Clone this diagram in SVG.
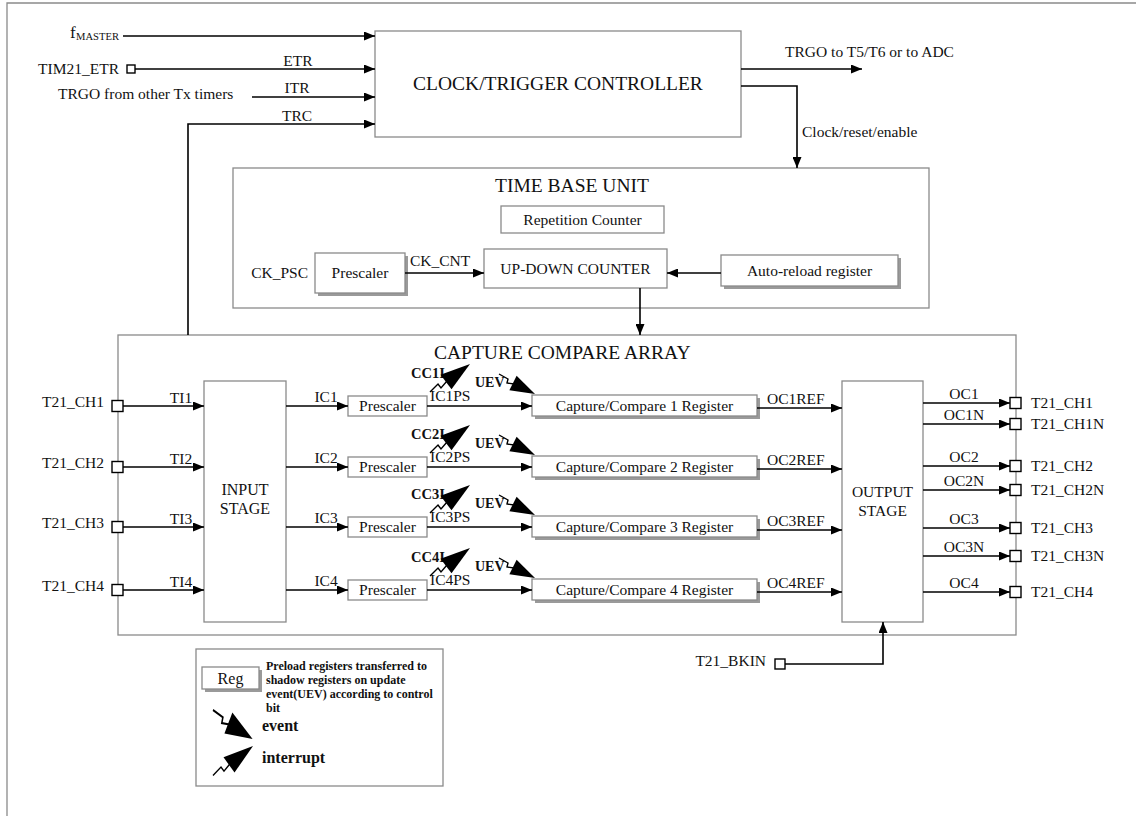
<svg xmlns="http://www.w3.org/2000/svg" width="1136" height="816" viewBox="0 0 1136 816">
<style>
text{font-family:"Liberation Serif","Times New Roman",serif;font-size:15.5px;fill:#111}
.big{font-size:19.5px}
.b{font-weight:bold}
.box{fill:#fff;stroke:#8a8a8a;stroke-width:1.3}
.sh{fill:#9a9a9a}
.frame{fill:none;stroke:#8a8a8a;stroke-width:1.3}
.w{fill:none;stroke:#000;stroke-width:1.6}
.wa{fill:none;stroke:#000;stroke-width:1.6;marker-end:url(#ah)}
.pin{fill:#fff;stroke:#000;stroke-width:1.4}
.c{text-anchor:middle}
.e{text-anchor:end}
</style>
<defs>
<marker id="ah" markerUnits="userSpaceOnUse" markerWidth="11" markerHeight="9" refX="11" refY="4.5" orient="auto">
<path d="M0,0 L11,4.5 L0,9 z" fill="#000"/>
</marker>
<g id="intr">
<polyline points="0,28 8,20 11,24 17,17" fill="none" stroke="#000" stroke-width="1.4"/>
<polygon points="40,0 21.5,25.3 10.5,10.7" fill="#000"/>
</g>
<g id="evt">
<polyline points="0,0 9,5 8,9 15,10" fill="none" stroke="#000" stroke-width="1.4"/>
<polygon points="36,20 10.4,16.2 17.6,1.8" fill="#000"/>
</g>
</defs>
<rect width="1136" height="816" fill="#fff"/>
<path class="frame" d="M7,816 V3 H1136"/>

<g id="clock-trigger-controller">
<rect class="box" x="375" y="31" width="366" height="106"/>
<text class="big c" x="558" y="90">CLOCK/TRIGGER CONTROLLER</text>
</g>

<g id="time-base-unit">
<rect class="box" x="233" y="168" width="696" height="140"/>
<text class="big c" x="572" y="192">TIME BASE UNIT</text>
</g>
<g id="repetition-counter">
<rect class="box" x="501" y="206" width="163" height="27"/>
<text class="c" x="582.5" y="225">Repetition Counter</text>
</g>
<g id="tbu-prescaler">
<rect class="sh" x="318" y="256" width="90" height="40"/>
<rect class="box" x="315" y="253" width="90" height="40"/>
<text class="c" x="360" y="278">Prescaler</text>
</g>
<g id="up-down-counter">
<rect class="box" x="484" y="249" width="183" height="39"/>
<text class="c" x="575.5" y="274">UP-DOWN COUNTER</text>
</g>
<g id="auto-reload">
<rect class="sh" x="724" y="258" width="177" height="31"/>
<rect class="box" x="721" y="255" width="177" height="31"/>
<text class="c" x="809.5" y="276">Auto-reload register</text>
</g>

<g id="capture-compare-array">
<rect class="box" x="118" y="335" width="898" height="300"/>
<text class="big" x="434" y="359">CAPTURE COMPARE ARRAY</text>
</g>
<g id="input-stage">
<rect class="box" x="204" y="381" width="82" height="241"/>
<text class="c" x="245" y="495" style="font-size:16px">INPUT</text>
<text class="c" x="245" y="514" style="font-size:16px">STAGE</text>
</g>
<g id="output-stage">
<rect class="box" x="842" y="381" width="81" height="241"/>
<text class="c" x="882.5" y="497">OUTPUT</text>
<text class="c" x="882.5" y="516">STAGE</text>
</g>

<g id="prescaler-1"><rect class="box" x="348" y="396" width="79" height="20"/><text class="c" x="387.5" y="411">Prescaler</text></g>
<g id="prescaler-2"><rect class="box" x="348" y="457" width="79" height="20"/><text class="c" x="387.5" y="472">Prescaler</text></g>
<g id="prescaler-3"><rect class="box" x="348" y="517" width="79" height="20"/><text class="c" x="387.5" y="532">Prescaler</text></g>
<g id="prescaler-4"><rect class="box" x="348" y="580" width="79" height="20"/><text class="c" x="387.5" y="595">Prescaler</text></g>

<g id="ccr-1"><rect class="sh" x="535" y="398" width="225" height="21"/><rect class="box" x="532" y="395" width="225" height="21"/><text class="c" x="644.5" y="411">Capture/Compare 1 Register</text></g>
<g id="ccr-2"><rect class="sh" x="535" y="459" width="225" height="21"/><rect class="box" x="532" y="456" width="225" height="21"/><text class="c" x="644.5" y="472">Capture/Compare 2 Register</text></g>
<g id="ccr-3"><rect class="sh" x="535" y="519" width="225" height="21"/><rect class="box" x="532" y="516" width="225" height="21"/><text class="c" x="644.5" y="532">Capture/Compare 3 Register</text></g>
<g id="ccr-4"><rect class="sh" x="535" y="582" width="225" height="21"/><rect class="box" x="532" y="579" width="225" height="21"/><text class="c" x="644.5" y="595">Capture/Compare 4 Register</text></g>

<g id="legend">
<rect class="box" x="196" y="649" width="247" height="137"/>
<rect class="sh" x="205" y="670" width="57" height="22"/>
<rect class="box" x="202" y="667" width="57" height="22"/>
<text class="c" x="230.5" y="684" style="font-size:16px">Reg</text>
<text class="b" x="266" y="670" style="font-size:12px">Preload registers transferred to</text>
<text class="b" x="266" y="684" style="font-size:12px">shadow registers on update</text>
<text class="b" x="266" y="698" style="font-size:12px">event(UEV) according to control</text>
<text class="b" x="266" y="712" style="font-size:12px">bit</text>
<use href="#evt" transform="translate(213,710) scale(1.1,1.45)"/>
<text class="b" x="262" y="731" style="font-size:16px">event</text>
<use href="#intr" transform="translate(213,746) scale(1,1.05)"/>
<text class="b" x="262" y="763" style="font-size:16px">interrupt</text>
</g>

<g id="connectors">
<text x="70" y="38" style="font-size:17px">f</text><text x="76" y="40" style="font-size:10.6px">MASTER</text>
<path class="wa" d="M123,36 H375"/>
<text class="e" x="119" y="74">TIM21_ETR</text>
<rect class="pin" x="127" y="65" width="8" height="8"/>
<path class="wa" d="M135,69 H375"/>
<text class="c" x="298" y="66">ETR</text>
<text x="58" y="99">TRGO from other Tx timers</text>
<path class="wa" d="M252,97 H375"/>
<text class="c" x="297" y="93">ITR</text>
<path class="wa" d="M188,335 V124 H375"/>
<text class="c" x="297" y="121">TRC</text>
<path class="wa" d="M741,69 H862"/>
<text x="785" y="57">TRGO to T5/T6 or to ADC</text>
<path class="wa" d="M741,86 H797 V168"/>
<text x="802" y="137">Clock/reset/enable</text>
<text class="e" x="308" y="278">CK_PSC</text>
<path class="wa" d="M405,273 H484"/>
<text x="410" y="266">CK_CNT</text>
<path class="wa" d="M721,273 H667"/>
<path class="wa" d="M640,288 V335"/>

<text class="e" x="104" y="407">T21_CH1</text>
<text class="e" x="104" y="468">T21_CH2</text>
<text class="e" x="104" y="528">T21_CH3</text>
<text class="e" x="104" y="591">T21_CH4</text>
<rect class="pin" x="112" y="400.5" width="11" height="11"/>
<rect class="pin" x="112" y="461.5" width="11" height="11"/>
<rect class="pin" x="112" y="521.5" width="11" height="11"/>
<rect class="pin" x="112" y="584.5" width="11" height="11"/>
<path class="wa" d="M123,406 H204"/>
<path class="wa" d="M123,467 H204"/>
<path class="wa" d="M123,527 H204"/>
<path class="wa" d="M123,590 H204"/>
<text class="c" x="181" y="403">TI1</text>
<text class="c" x="181" y="464">TI2</text>
<text class="c" x="181" y="524">TI3</text>
<text class="c" x="181" y="587">TI4</text>
<path class="wa" d="M286,406 H348"/>
<path class="wa" d="M286,467 H348"/>
<path class="wa" d="M286,527 H348"/>
<path class="wa" d="M286,590 H348"/>
<text class="c" x="326" y="402">IC1</text>
<text class="c" x="326" y="463">IC2</text>
<text class="c" x="326" y="523">IC3</text>
<text class="c" x="326" y="586">IC4</text>
<path class="wa" d="M427,406 H532"/>
<path class="wa" d="M427,467 H532"/>
<path class="wa" d="M427,527 H532"/>
<path class="wa" d="M427,590 H532"/>
<text x="430" y="401">IC1PS</text>
<text x="430" y="462">IC2PS</text>
<text x="430" y="522">IC3PS</text>
<text x="430" y="585">IC4PS</text>
<text class="b" x="411" y="378" style="font-size:14.5px">CC1I</text>
<text class="b" x="411" y="439" style="font-size:14.5px">CC2I</text>
<text class="b" x="411" y="499" style="font-size:14.5px">CC3I</text>
<text class="b" x="411" y="562" style="font-size:14.5px">CC4I</text>
<use href="#intr" x="430" y="364"/>
<use href="#intr" x="430" y="425"/>
<use href="#intr" x="430" y="485"/>
<use href="#intr" x="430" y="548"/>
<text class="b" x="475" y="387" style="font-size:14px">UEV</text>
<text class="b" x="475" y="448" style="font-size:14px">UEV</text>
<text class="b" x="475" y="508" style="font-size:14px">UEV</text>
<text class="b" x="475" y="571" style="font-size:14px">UEV</text>
<use href="#evt" x="499" y="374"/>
<use href="#evt" x="499" y="435"/>
<use href="#evt" x="499" y="495"/>
<use href="#evt" x="499" y="558"/>
<path class="wa" d="M757,408 H842"/>
<path class="wa" d="M757,469 H842"/>
<path class="wa" d="M757,530 H842"/>
<path class="wa" d="M757,592 H842"/>
<text x="767" y="404">OC1REF</text>
<text x="767" y="465">OC2REF</text>
<text x="767" y="526">OC3REF</text>
<text x="767" y="588">OC4REF</text>
<path class="wa" d="M923,403 H1010"/>
<path class="wa" d="M923,424 H1010"/>
<path class="wa" d="M923,466 H1010"/>
<path class="wa" d="M923,490 H1010"/>
<path class="wa" d="M923,528 H1010"/>
<path class="wa" d="M923,556 H1010"/>
<path class="wa" d="M923,592 H1010"/>
<rect class="pin" x="1010" y="397.5" width="11" height="11"/>
<rect class="pin" x="1010" y="418.5" width="11" height="11"/>
<rect class="pin" x="1010" y="460.5" width="11" height="11"/>
<rect class="pin" x="1010" y="484.5" width="11" height="11"/>
<rect class="pin" x="1010" y="522.5" width="11" height="11"/>
<rect class="pin" x="1010" y="550.5" width="11" height="11"/>
<rect class="pin" x="1010" y="586.5" width="11" height="11"/>
<text class="c" x="964" y="399">OC1</text>
<text class="c" x="964" y="420">OC1N</text>
<text class="c" x="964" y="462">OC2</text>
<text class="c" x="964" y="486">OC2N</text>
<text class="c" x="964" y="524">OC3</text>
<text class="c" x="964" y="552">OC3N</text>
<text class="c" x="964" y="588">OC4</text>
<text x="1031" y="408">T21_CH1</text>
<text x="1031" y="429">T21_CH1N</text>
<text x="1031" y="471">T21_CH2</text>
<text x="1031" y="495">T21_CH2N</text>
<text x="1031" y="533">T21_CH3</text>
<text x="1031" y="561">T21_CH3N</text>
<text x="1031" y="597">T21_CH4</text>
<text class="e" x="766" y="666">T21_BKIN</text>
<rect class="pin" x="775" y="659" width="10" height="10"/>
<path class="wa" d="M785,664 H883 V622"/>
</g>
</svg>
